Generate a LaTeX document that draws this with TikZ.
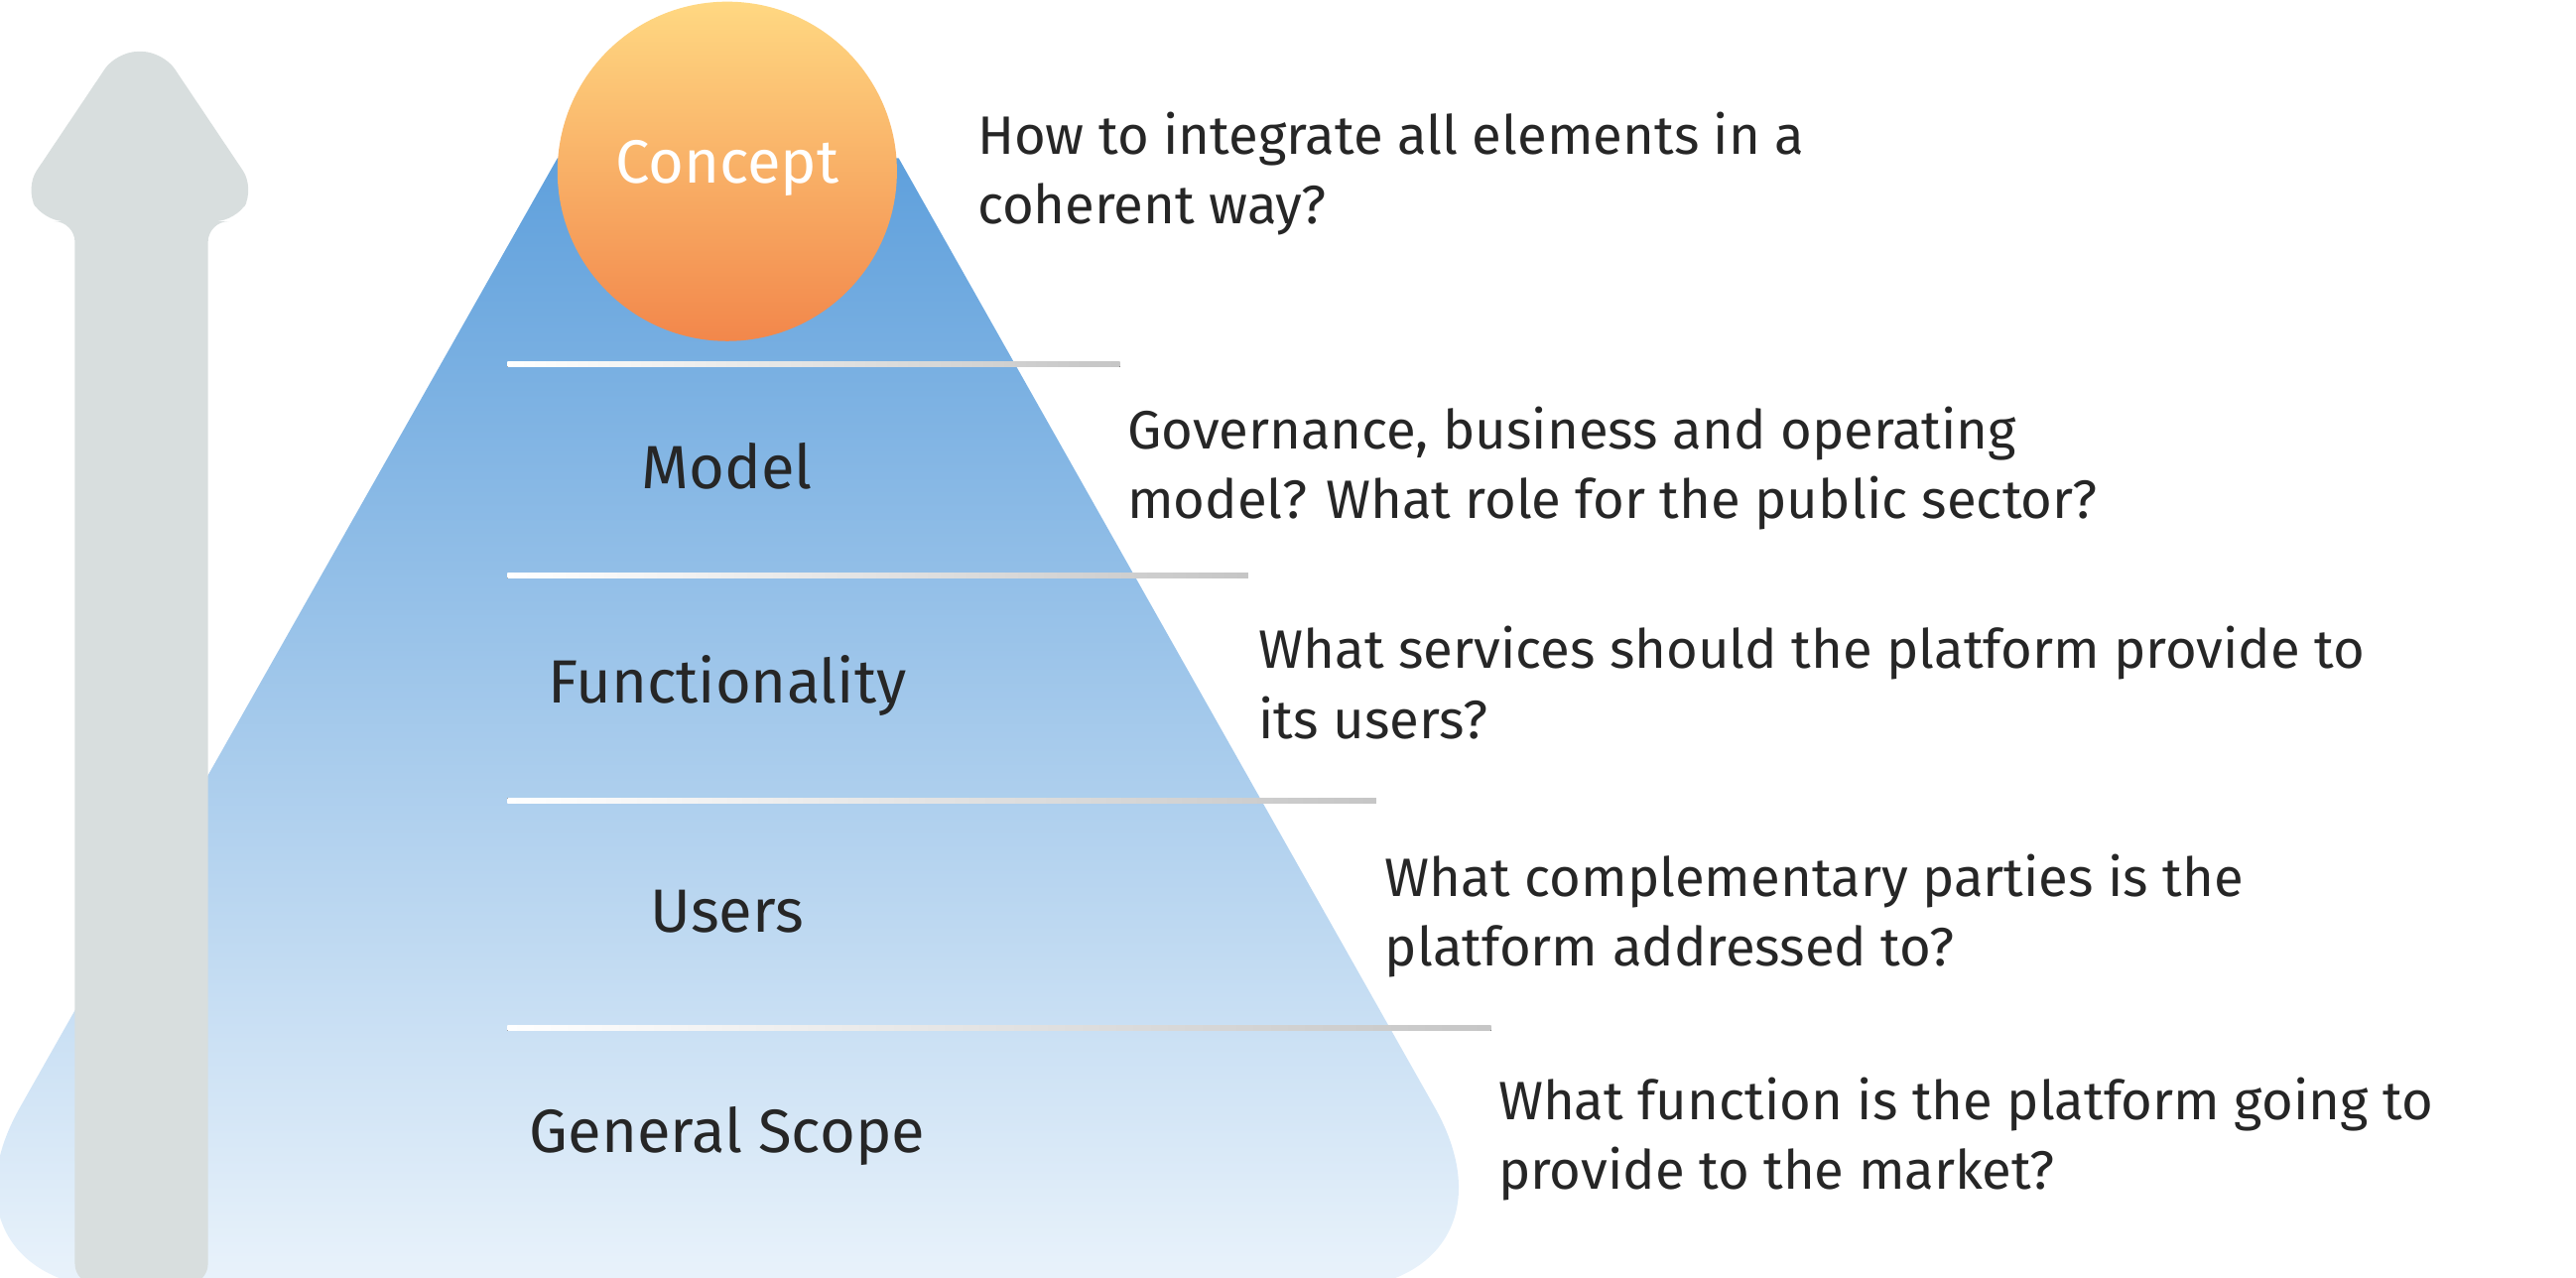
\documentclass[tikz,border=0pt]{standalone}
\usepackage{fontspec}
\setmainfont{Fira Sans}
\setsansfont{Fira Sans}
\begin{document}
\begin{tikzpicture}[x=0.01677cm,y=-0.01677cm,
  lbl/.style={font=\fontsize{17.5}{20}\selectfont\sffamily, text=black!85},
  qst/.style={font=\fontsize{15.5}{20}\selectfont\sffamily, text=black!85, anchor=north west, align=left, inner sep=0},
  sep/.style={left color=white, right color=gray!45, draw=none}]
\useasboundingbox (0,0) rectangle (1548,768);
\definecolor{pyrtop}{RGB}{95,160,220}
\definecolor{pyrbot}{RGB}{234,243,251}
\definecolor{arrg}{RGB}{216,222,222}
\definecolor{cyel}{RGB}{255,216,130}
\definecolor{corg}{RGB}{242,135,75}
\begin{scope}
\clip (0,0) rectangle (1548,768);
\path[top color=pyrtop, bottom color=pyrbot]
  (335,95) -- (540,95) [rounded corners=60] -- (924,775) -- (-50,775) [sharp corners] -- cycle;
\node[name=pyr, coordinate] at (437,400) {};
\path[fill=arrg, rounded corners=6]
  (45,772) -- (45,133) -- (26,133) -- (15,113) -- (70,31) -- (98,31) -- (153,113) -- (142,133) -- (125,133) -- (125,772) -- cycle;
\end{scope}
\node[name=arrow, coordinate] at (84,400) {};
\shade[top color=cyel, bottom color=corg] (437,103) circle (102);
\node[name=concept, font=\fontsize{17.5}{20}\selectfont\sffamily, text=white] at (437,101) {Concept};
\fill[sep] (305,217.5) rectangle (673,220.5);
\fill[sep] (305,344.5) rectangle (750,347.5);
\fill[sep] (305,479.5) rectangle (827,482.5);
\fill[sep] (305,616.5) rectangle (896,619.5);
\node[lbl, name=model] at (437,280) {Model};
\node[lbl, name=func] at (437,412) {Functionality};
\node[lbl, name=users] at (437,548) {Users};
\node[lbl, name=scope] at (437,683) {General Scope};
\node[qst, name=q1] at (587,67) {How to integrate all elements in a\\coherent way?};
\node[qst, name=q2] at (677,244) {Governance, business and operating\\model? What role for the public sector?};
\node[qst, name=q3] at (756,376) {What services should the platform provide to\\its users?};
\node[qst, name=q4] at (832,513) {What complementary parties is the\\platform addressed to?};
\node[qst, name=q5] at (900,647) {What function is the platform going to\\provide to the market?};
\end{tikzpicture}
\end{document}
